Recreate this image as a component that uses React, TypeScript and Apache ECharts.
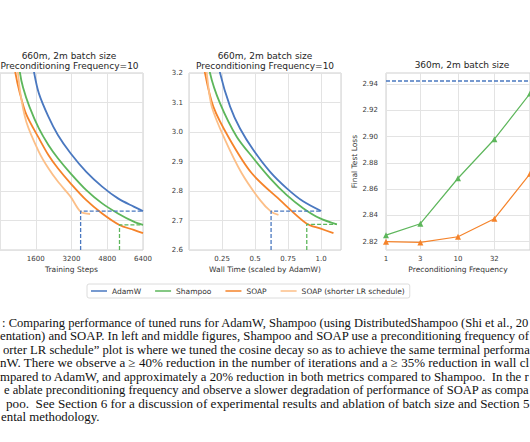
import React, { useEffect, useRef } from 'react';
import * as echarts from 'echarts';

// ---------- legend / series names ----------
const seriesNames = ['AdamW', 'Shampoo', 'SOAP', 'SOAP (shorter LR schedule)'];
const seriesColors = ['#4a78c0', '#5db65b', '#f5832a', '#fcbf88'];

// ---------- panel 1 : loss vs training steps ----------
const p1AdamwSteps = [1300, 1530, 1740, 2166, 2590, 3157, 3862, 4571, 5279, 5985, 6400];
const p1AdamwLoss = [3.31, 3.2, 3.131, 3.052, 2.99, 2.928, 2.865, 2.815, 2.775, 2.747, 2.732];
const p1ShampooSteps = [700, 895, 1035, 1316, 1740, 2166, 2590, 3157, 3862, 4571, 5279, 5985, 6400];
const p1ShampooLoss = [3.33, 3.2, 3.15, 3.086, 3.012, 2.956, 2.911, 2.86, 2.803, 2.758, 2.724, 2.696, 2.685];
const p1SoapSteps = [600, 690, 895, 1176, 1740, 2166, 2590, 3157, 3862, 4571, 5348, 5985, 6400];
const p1SoapLoss = [3.26, 3.2, 3.13, 3.06, 2.979, 2.922, 2.877, 2.826, 2.769, 2.724, 2.685, 2.668, 2.657];
const p1SoapShortSteps = [750, 895, 1176, 1740, 2166, 2590, 3157, 3608, 4033];
const p1SoapShortLoss = [3.25, 3.14, 3.035, 2.933, 2.877, 2.832, 2.781, 2.73, 2.722];
// reference markers (dashed)
const p1AdamwTarget = 2.732;
const p1SoapShortReach = 3608;
const p1ShampooTarget = 2.685;
const p1SoapReach = 5348;
const p1StepMax = 6400;

// ---------- panel 2 : loss vs wall time ----------
const p2AdamwTime = [0.2, 0.235, 0.311, 0.386, 0.487, 0.614, 0.74, 0.866, 1.0];
const p2AdamwLoss = [3.3, 3.2, 3.086, 3.012, 2.939, 2.865, 2.809, 2.764, 2.732];
const p2ShampooTime = [0.12, 0.159, 0.235, 0.361, 0.487, 0.614, 0.74, 0.866, 0.992, 1.119];
const p2ShampooLoss = [3.33, 3.2, 3.097, 2.984, 2.911, 2.843, 2.786, 2.741, 2.707, 2.687];
const p2SoapTime = [0.1, 0.121, 0.184, 0.311, 0.475, 0.689, 0.891, 0.992, 1.093];
const p2SoapLoss = [3.27, 3.2, 3.086, 2.973, 2.86, 2.769, 2.689, 2.673, 2.657];
const p2SoapShortTime = [0.1, 0.134, 0.172, 0.273, 0.399, 0.538, 0.621, 0.677];
const p2SoapShortLoss = [3.32, 3.2, 3.086, 2.973, 2.86, 2.769, 2.73, 2.719];
const p2AdamwTarget = 2.732;
const p2SoapShortReach = 0.621;
const p2AdamwEnd = 1.0;
const p2ShampooTarget = 2.687;
const p2SoapReach = 0.891;
const p2ShampooEnd = 1.119;

// ---------- panel 3 : final loss vs preconditioning frequency ----------
const p3Freq = [1, 3, 10, 32, 100];
const p3Shampoo = [2.825, 2.8337, 2.8683, 2.898, 2.9328];
const p3Soap = [2.82, 2.8195, 2.8238, 2.8375, 2.8717];
const p3AdamwFinal = 2.9423;
const p3FreqTicks = [1, 3, 10, 32];
const p3FreqGrid = [1, 3, 10, 32, 100];
const p3LossTicks = [2.82, 2.84, 2.86, 2.88, 2.9, 2.92, 2.94];

// ---------- caption ----------
const captionLines = [
  ': Comparing performance of tuned runs for AdamW, Shampoo (using DistributedShampoo (Shi et al., 20',
  'entation) and SOAP. In left and middle figures, Shampoo and SOAP use a preconditioning frequency of',
  'orter LR schedule\u201d plot is where we tuned the cosine decay so as to achieve the same terminal performa',
  'nW. There we observe a \u2265 40% reduction in the number of iterations and a \u2265 35% reduction in wall cl',
  'mpared to AdamW, and approximately a 20% reduction in both metrics compared to Shampoo.  In the r',
  'e ablate preconditioning frequency and observe a slower degradation of performance of SOAP as compa',
  'poo.  See Section 6 for a discussion of experimental results and ablation of batch size and Section 5',
  'ental methodology.',
];
const captionX = [2, 0, 3, 0, 0, 4, 6, 1];
const CAPTION_FONT = '12.5px "Liberation Serif"';

const zip = (xs: number[], ys: number[]) => xs.map((x, i) => [x, ys[i]]);

const FONT = 'DejaVu Sans';
const TICK_COLOR = '#3a3a3a';
const GRID_COLOR = '#e3e3e3';
const BORDER_COLOR = '#cfcfcf';

function measure(text: string, font: string): number {
  const c = document.createElement('canvas');
  const ctx = c.getContext('2d');
  if (!ctx) return 0;
  ctx.font = font;
  return ctx.measureText(text).width;
}

export default function App() {
  const ref = useRef<HTMLDivElement>(null);
  useEffect(() => {
    if (!ref.current) return;
    const chart = echarts.init(ref.current, null, { renderer: 'svg' });

    const curve = (name: string, color: string, data: number[][], xi: number, z = 2) => ({
      type: 'line', name, xAxisIndex: xi, yAxisIndex: xi, data,
      showSymbol: false, smooth: 0.3, clip: true, z,
      lineStyle: { color, width: 1.8 }, itemStyle: { color },
      emphasis: { disabled: true },
    });
    const dashed = (name: string, color: string, data: number[][], xi: number) => ({
      type: 'line', name, xAxisIndex: xi, yAxisIndex: xi, data,
      showSymbol: false, clip: true, z: 5,
      lineStyle: { color, width: 1.3, type: [4, 2] }, itemStyle: { color },
      emphasis: { disabled: true },
    });
    const marked = (name: string, color: string, data: number[][]) => ({
      type: 'line', name, xAxisIndex: 2, yAxisIndex: 2, data,
      symbol: 'triangle', symbolSize: 6, showSymbol: true, clip: false,
      lineStyle: { color, width: 1.2 }, itemStyle: { color },
      emphasis: { disabled: true },
    });

    const baseGrid = { top: 73, height: 177, width: 152, show: true, borderColor: BORDER_COLOR, borderWidth: 1, backgroundColor: '#fff' };
    const axisLabel = { color: TICK_COLOR, fontSize: 7, fontFamily: FONT };
    const nameStyle = { color: '#333', fontSize: 7.5, fontFamily: FONT };

    const titleText = (text: string, x: number, y: number) => ({
      type: 'text', x, y,
      style: { text, fill: '#262626', font: `9px "${FONT}"`, textAlign: 'center', textVerticalAlign: 'middle' },
    });

    const stretchWidths = captionLines.map((t) => measure(t, CAPTION_FONT));
    const scales = captionLines.map((t, i) => {
      if (i === captionLines.length - 1) return 1.03;
      const w = stretchWidths[i];
      if (!w) return 1;
      const s = (530 - captionX[i]) / w;
      return Math.min(1.12, Math.max(0.9, s));
    });

    const option: any = {
      animation: false,
      backgroundColor: '#ffffff',
      textStyle: { fontFamily: FONT },
      grid: [
        { ...baseGrid, left: -8, width: 151 },
        { ...baseGrid, left: 189 },
        { ...baseGrid, left: 386 },
      ],
      xAxis: [
        {
          type: 'value', gridIndex: 0, min: 0, max: p1StepMax, interval: 1600,
          axisLine: { show: false }, axisTick: { show: false },
          axisLabel: { ...axisLabel, margin: 5, showMinLabel: false, formatter: (v: number) => String(v) },
          splitLine: { lineStyle: { color: GRID_COLOR, width: 1 } },
          name: 'Training Steps', nameLocation: 'middle', nameGap: 15, nameTextStyle: nameStyle,
        },
        {
          type: 'value', gridIndex: 1, min: 0, max: 1.15, interval: 0.25,
          axisLine: { show: false }, axisTick: { show: false },
          axisLabel: { ...axisLabel, margin: 5, showMinLabel: false, showMaxLabel: false,
            formatter: (v: number) => (v === 1 ? '1.0' : String(v)) },
          splitLine: { lineStyle: { color: GRID_COLOR, width: 1 } },
          name: 'Wall Time (scaled by AdamW)', nameLocation: 'middle', nameGap: 15, nameTextStyle: nameStyle,
        },
        {
          type: 'log', gridIndex: 2, logBase: 10, min: 1, max: 100,
          axisLine: { show: false },
          axisTick: { show: false, customValues: p3FreqGrid },
          axisLabel: { ...axisLabel, margin: 5, customValues: p3FreqTicks, formatter: (v: number) => String(v) },
          splitLine: { show: true, lineStyle: { color: GRID_COLOR, width: 1 } },
          minorSplitLine: { show: false },
          name: 'Preconditioning Frequency', nameLocation: 'middle', nameGap: 15, nameTextStyle: nameStyle,
        },
      ],
      yAxis: [
        {
          type: 'value', gridIndex: 0, min: 2.6, max: 3.2, interval: 0.1,
          axisLine: { show: false }, axisTick: { show: false }, axisLabel: { show: false },
          splitLine: { lineStyle: { color: GRID_COLOR, width: 1 } },
        },
        {
          type: 'value', gridIndex: 1, min: 2.6, max: 3.2, interval: 0.1,
          axisLine: { show: false }, axisTick: { show: false },
          axisLabel: { ...axisLabel, margin: 6, formatter: (v: number) => v.toFixed(1) },
          splitLine: { lineStyle: { color: GRID_COLOR, width: 1 } },
        },
        {
          type: 'value', gridIndex: 2, min: 2.8137, max: 2.9484,
          axisLine: { show: false },
          axisTick: { show: false, customValues: p3LossTicks },
          axisLabel: { ...axisLabel, margin: 8, customValues: p3LossTicks, formatter: (v: number) => v.toFixed(2) },
          splitLine: { lineStyle: { color: GRID_COLOR, width: 1 } },
          name: 'Final Test Loss', nameLocation: 'middle', nameGap: 23, nameTextStyle: nameStyle,
        },
      ],
      legend: {
        data: seriesNames,
        left: 87, top: 284,
        orient: 'horizontal',
        icon: 'rect', itemWidth: 16, itemHeight: 1.5, itemGap: 14,
        padding: [3, 5, 3, 4],
        borderColor: '#dcdcdc', borderWidth: 1, borderRadius: 2,
        textStyle: { color: '#333', fontSize: 7.5, fontFamily: FONT },
      },
      series: [
        curve(seriesNames[0], seriesColors[0], zip(p1AdamwSteps, p1AdamwLoss), 0),
        curve(seriesNames[1], seriesColors[1], zip(p1ShampooSteps, p1ShampooLoss), 0),
        curve(seriesNames[2], seriesColors[2], zip(p1SoapSteps, p1SoapLoss), 0),
        curve(seriesNames[3], seriesColors[3], zip(p1SoapShortSteps, p1SoapShortLoss), 0, 3),
        dashed('AdamW target', seriesColors[0], [[p1SoapShortReach, 2.6], [p1SoapShortReach, p1AdamwTarget], [p1StepMax, p1AdamwTarget]], 0),
        dashed('Shampoo target', seriesColors[1], [[p1SoapReach, 2.6], [p1SoapReach, p1ShampooTarget], [p1StepMax, p1ShampooTarget]], 0),

        curve(seriesNames[0], seriesColors[0], zip(p2AdamwTime, p2AdamwLoss), 1),
        curve(seriesNames[1], seriesColors[1], zip(p2ShampooTime, p2ShampooLoss), 1),
        curve(seriesNames[2], seriesColors[2], zip(p2SoapTime, p2SoapLoss), 1),
        curve(seriesNames[3], seriesColors[3], zip(p2SoapShortTime, p2SoapShortLoss), 1, 3),
        dashed('AdamW target 2', seriesColors[0], [[p2SoapShortReach, 2.6], [p2SoapShortReach, p2AdamwTarget], [p2AdamwEnd, p2AdamwTarget]], 1),
        dashed('Shampoo target 2', seriesColors[1], [[p2SoapReach, 2.6], [p2SoapReach, p2ShampooTarget], [p2ShampooEnd, p2ShampooTarget]], 1),

        dashed('AdamW final', seriesColors[0], [[p3Freq[0], p3AdamwFinal], [p3Freq[p3Freq.length - 1], p3AdamwFinal]], 2),
        marked(seriesNames[1], seriesColors[1], zip(p3Freq, p3Shampoo)),
        marked(seriesNames[2], seriesColors[2], zip(p3Freq, p3Soap)),
      ],
      graphic: [
        titleText('660m, 2m batch size', 69, 56),
        titleText('Preconditioning Frequency=10', 69.5, 66),
        titleText('660m, 2m batch size', 265, 56),
        titleText('Preconditioning Frequency=10', 265, 66),
        titleText('360m, 2m batch size', 462, 65),
        ...captionLines.map((t, i) => ({
          type: 'text', x: captionX[i], y: 322.7 + i * 13.5, scaleX: scales[i],
          style: {
            text: t, fill: '#111', font: CAPTION_FONT,
            textVerticalAlign: 'middle',
          },
        })),
      ],
    };

    chart.setOption(option);
    return () => chart.dispose();
  }, []);

  return <div ref={ref} style={{ position: 'absolute', left: 0, top: 0, width: 530, height: 442 }} />;
}
